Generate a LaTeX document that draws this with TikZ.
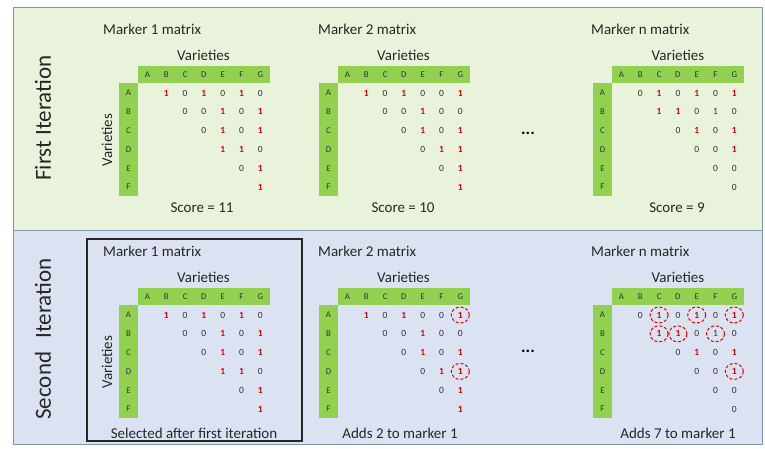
\documentclass[tikz,border=0pt]{standalone}
\usepackage{fontspec}
\setmainfont{Carlito}
\usetikzlibrary{shapes.geometric}
\definecolor{topfill}{RGB}{233,243,220}
\definecolor{botfill}{RGB}{219,227,242}
\definecolor{panelline}{RGB}{128,150,176}
\definecolor{hdrgreen}{RGB}{146,208,80}
\definecolor{onered}{RGB}{230,0,0}
\definecolor{zerogray}{RGB}{50,50,50}
\tikzset{
  panel/.style={draw=panelline, line width=0.9pt},
  hdr/.style={fill=hdrgreen, draw=none, inner sep=0pt},
  lbl/.style={font=\fontsize{8.8}{10}\selectfont, text=zerogray, inner sep=0pt},
  ent0/.style={font=\fontsize{9.5}{10}\selectfont, text=zerogray, inner sep=0pt},
  ent1/.style={font=\fontsize{9.5}{10}\selectfont\bfseries, text=onered, inner sep=0pt},
  entb/.style={font=\fontsize{9.5}{10}\selectfont, text=zerogray, inner sep=0pt},
  ttl/.style={font=\fontsize{15}{17}\selectfont, text=black!85, inner sep=0pt},
  side/.style={font=\fontsize{23}{25}\selectfont, text=black!85, inner sep=0pt, rotate=90},
  ring/.style={draw=onered, dash pattern=on 3pt off 2pt, line width=1pt, ellipse, minimum width=18pt, minimum height=16pt, inner sep=0pt},
  selbox/.style={draw=black!85, line width=1.1pt},
}
\expandafter\def\csname entval0\endcsname{0}
\expandafter\def\csname entval1\endcsname{1}
\expandafter\def\csname entvalb\endcsname{1}
\def\mOne{A/B/1,A/C/0,A/D/1,A/E/0,A/F/1,A/G/0,B/C/0,B/D/0,B/E/1,B/F/0,B/G/1,C/D/0,C/E/1,C/F/0,C/G/1,D/E/1,D/F/1,D/G/0,E/F/0,E/G/1,F/G/1}
\def\mTwo{A/B/1,A/C/0,A/D/1,A/E/0,A/F/0,A/G/1,B/C/0,B/D/0,B/E/1,B/F/0,B/G/0,C/D/0,C/E/1,C/F/0,C/G/1,D/E/0,D/F/1,D/G/1,E/F/0,E/G/1,F/G/1}
\def\mEn{A/B/0,A/C/1,A/D/0,A/E/1,A/F/0,A/G/1,B/C/1,B/D/1,B/E/0,B/F/b,B/G/0,C/D/0,C/E/1,C/F/0,C/G/1,D/E/0,D/F/0,D/G/1,E/F/0,E/G/0,F/G/0}
\newcommand\mkmatrix[4]{%
  \begin{scope}[shift={(#2,#3)}]
    \node[hdr, minimum width=132pt, minimum height=17pt] (#1hdr) at (66,8.5) {};
    \node[hdr, minimum width=19pt, minimum height=113pt] (#1rows) at (-9.5,73.5) {};
    \foreach \ml [count=\mj from 0] in {A,B,C,D,E,F,G}
      \node[lbl] (#1c\ml) at (9.5+18.8*\mj,9) {\ml};
    \foreach \ml [count=\mi from 0] in {A,B,C,D,E,F}
      \node[lbl] (#1r\ml) at (-9.5,27+18.8*\mi) {\ml};
    \foreach \mr/\mc/\mv in #4
      \node[ent\mv] (#1\mr\mc) at (#1c\mc.center |- #1r\mr.center) {\csname entval\mv\endcsname};
  \end{scope}}
\begin{document}
\begin{tikzpicture}[x=1pt,y=-1pt]
\useasboundingbox (0,0) rectangle (765,448);
% panels
\draw[panel, fill=topfill] (13,7) rectangle (762,230);
\draw[panel, fill=botfill] (13,230) rectangle (762,444);
\node[side] (first) at (43,118) {First Iteration};
\node[side] (second) at (43,339) {Second\hspace{0.35em} Iteration};
% selection box
\draw[selbox] (87,239) rectangle (302,441);

% ---- first iteration ----
\node[ttl, anchor=west] (t1title) at (103,29) {Marker 1 matrix};
\node[ttl, anchor=west] (t2title) at (318,29) {Marker 2 matrix};
\node[ttl, anchor=west] (tntitle) at (591,29) {Marker n matrix};
\node[ttl] (t1var) at (203.5,55) {Varieties};
\node[ttl] (t2var) at (403.5,55) {Varieties};
\node[ttl] (tnvar) at (678,55) {Varieties};
\node[ttl, rotate=90] (t1vvar) at (107,140) {Varieties};
\mkmatrix{t1}{138}{66}{\mOne}
\mkmatrix{t2}{338}{66}{\mTwo}
\mkmatrix{tn}{612}{66}{\mEn}
\node[ttl] (t1score) at (202,208) {Score = 11};
\node[ttl] (t2score) at (403,208) {Score = 10};
\node[ttl] (tnscore) at (677,208) {Score = 9};
\node[font=\fontsize{17}{17}\selectfont\bfseries, inner sep=0pt] (tdots) at (528,133) {...};

% ---- second iteration ----
\node[ttl, anchor=west] (b1title) at (103,251) {Marker 1 matrix};
\node[ttl, anchor=west] (b2title) at (318,251) {Marker 2 matrix};
\node[ttl, anchor=west] (bntitle) at (591,251) {Marker n matrix};
\node[ttl] (b1var) at (203.5,277) {Varieties};
\node[ttl] (b2var) at (403.5,277) {Varieties};
\node[ttl] (bnvar) at (678,277) {Varieties};
\node[ttl, rotate=90] (b1vvar) at (107,362) {Varieties};
\mkmatrix{b1}{138}{288}{\mOne}
\mkmatrix{b2}{338}{288}{\mTwo}
\mkmatrix{bn}{612}{288}{\mEn}
\node[ttl] (b1cap) at (194,433) {Selected after first iteration};
\node[ttl] (b2cap) at (400,433) {Adds 2 to marker 1};
\node[ttl] (bncap) at (678,433) {Adds 7 to marker 1};
\node[font=\fontsize{17}{17}\selectfont\bfseries, inner sep=0pt] (bdots) at (528,351) {...};
% rings
\foreach \rn in {b2AG,b2DG,bnAC,bnAE,bnAG,bnBC,bnBD,bnBF,bnDG}
  \node[ring] at (\rn) {};
\end{tikzpicture}
\end{document}
